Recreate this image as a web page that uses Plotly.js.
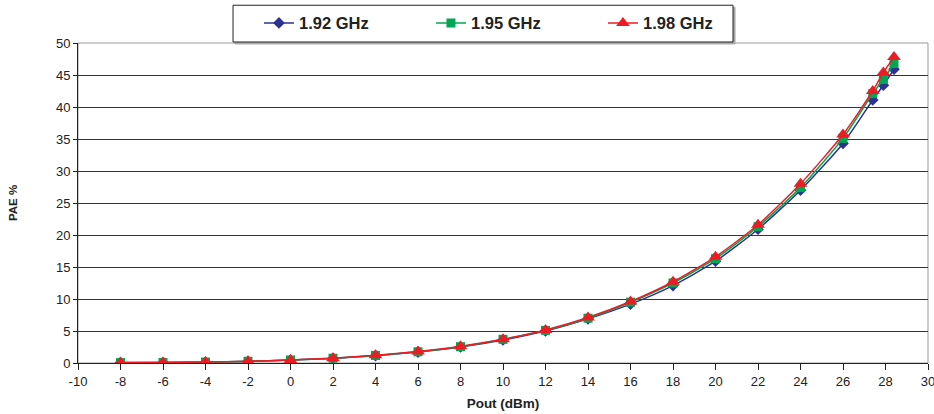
<!DOCTYPE html>
<html><head><meta charset="utf-8">
<script src="https://cdn.plot.ly/plotly-3.0.1.min.js"></script>
<style>html,body{margin:0;padding:0;background:#fff}#chart{width:934px;height:414px}</style>
</head><body><div id="chart"></div>
<script>
var pout = [-8,-6,-4,-2,0,2,4,6,8,10,12,14,16,18,20,22,24,26,27.4,27.9,28.4];
var pae192 = [0.05,0.08,0.13,0.25,0.45,0.72,1.15,1.7,2.5,3.6,5.0,6.9,9.2,12.1,15.9,20.9,27.0,34.3,41.1,43.4,45.9];
var pae195 = [0.06,0.09,0.15,0.27,0.47,0.75,1.18,1.75,2.55,3.7,5.1,7.0,9.5,12.5,16.3,21.3,27.4,35.1,42.1,44.3,46.8];
var pae198 = [0.06,0.09,0.15,0.27,0.48,0.76,1.2,1.78,2.6,3.7,5.15,7.1,9.6,12.7,16.6,21.6,28.0,35.7,42.5,45.4,47.8];
var names = ['1.92 GHz','1.95 GHz','1.98 GHz'];
var xTicks = [-10,-8,-6,-4,-2,0,2,4,6,8,10,12,14,16,18,20,22,24,26,28,30];
var xTickText = ['-10','-8','-6','-4','-2','0','2','4','6','8','10','12','14','16','18','20','22','24','26','28','30'];

var traces = [
  {x:pout, y:pae192, name:names[0], mode:'lines+markers', line:{color:'#2E3192', width:1.5, shape:'spline', smoothing:0.6}, marker:{symbol:'diamond', size:9, color:'#2E3192'}},
  {x:pout, y:pae195, name:names[1], mode:'lines+markers', line:{color:'#00A651', width:1.5, shape:'spline', smoothing:0.6}, marker:{symbol:'square', size:9, color:'#00A651'}},
  {x:pout, y:pae198, name:names[2], mode:'lines+markers', line:{color:'#ED1C24', width:1.5, shape:'spline', smoothing:0.6}, marker:{symbol:'triangle-up', size:12, color:'#ED1C24'}}
];

var layout = {
  width:934, height:414,
  margin:{l:78, r:6, t:41, b:51},
  paper_bgcolor:'#fff', plot_bgcolor:'#fff',
  font:{family:'Liberation Sans, Arial, sans-serif', size:13, color:'#222'},
  showlegend:true,
  legend:{orientation:'h', x:0.2129, xanchor:'left', y:1.062, yanchor:'middle',
    borderwidth:0, bgcolor:'rgba(0,0,0,0)', entrywidth:127,
    font:{size:16.5, color:'#222', family:'Liberation Sans, Arial, sans-serif', weight:'bold'}},
  xaxis:{range:[-10,30.0001], tickmode:'array', tickvals:xTicks, ticktext:xTickText, ticks:'outside', ticklen:6, tickcolor:'#222',
    ticklabeloverflow:'allow',
    showgrid:false, zeroline:false, showline:true, linecolor:'#222', linewidth:1,
    tickfont:{size:13}, title:{text:'<b>Pout (dBm)</b>', font:{size:13.5}, standoff:10}},
  yaxis:{range:[0,50], dtick:5, ticks:'outside', ticklen:4, tickcolor:'#222',
    showgrid:true, gridcolor:'#333', gridwidth:1, zeroline:false, showline:true, linecolor:'#222', linewidth:1,
    tickfont:{size:13}, title:{text:'<b>PAE %</b>', font:{size:11.5}, standoff:35}},
  shapes:[
    {type:'rect', xref:'paper', yref:'paper', x0:0, x1:1, y0:0, y1:1, line:{color:'#999', width:1}, layer:'below'},
    {type:'rect', xref:'paper', yref:'paper', x0:0.1847, x1:0.7730, y0:0.9969, y1:1.1118, line:{color:'#aaa', width:1}, fillcolor:'#aaa', layer:'above'},
    {type:'rect', xref:'paper', yref:'paper', x0:0.1824, x1:0.7706, y0:1.0031, y1:1.118, line:{color:'#222', width:1}, fillcolor:'#fff', layer:'above'}
  ]
};
Plotly.newPlot('chart', traces, layout, {displayModeBar:false, staticPlot:true});
</script></body></html>
